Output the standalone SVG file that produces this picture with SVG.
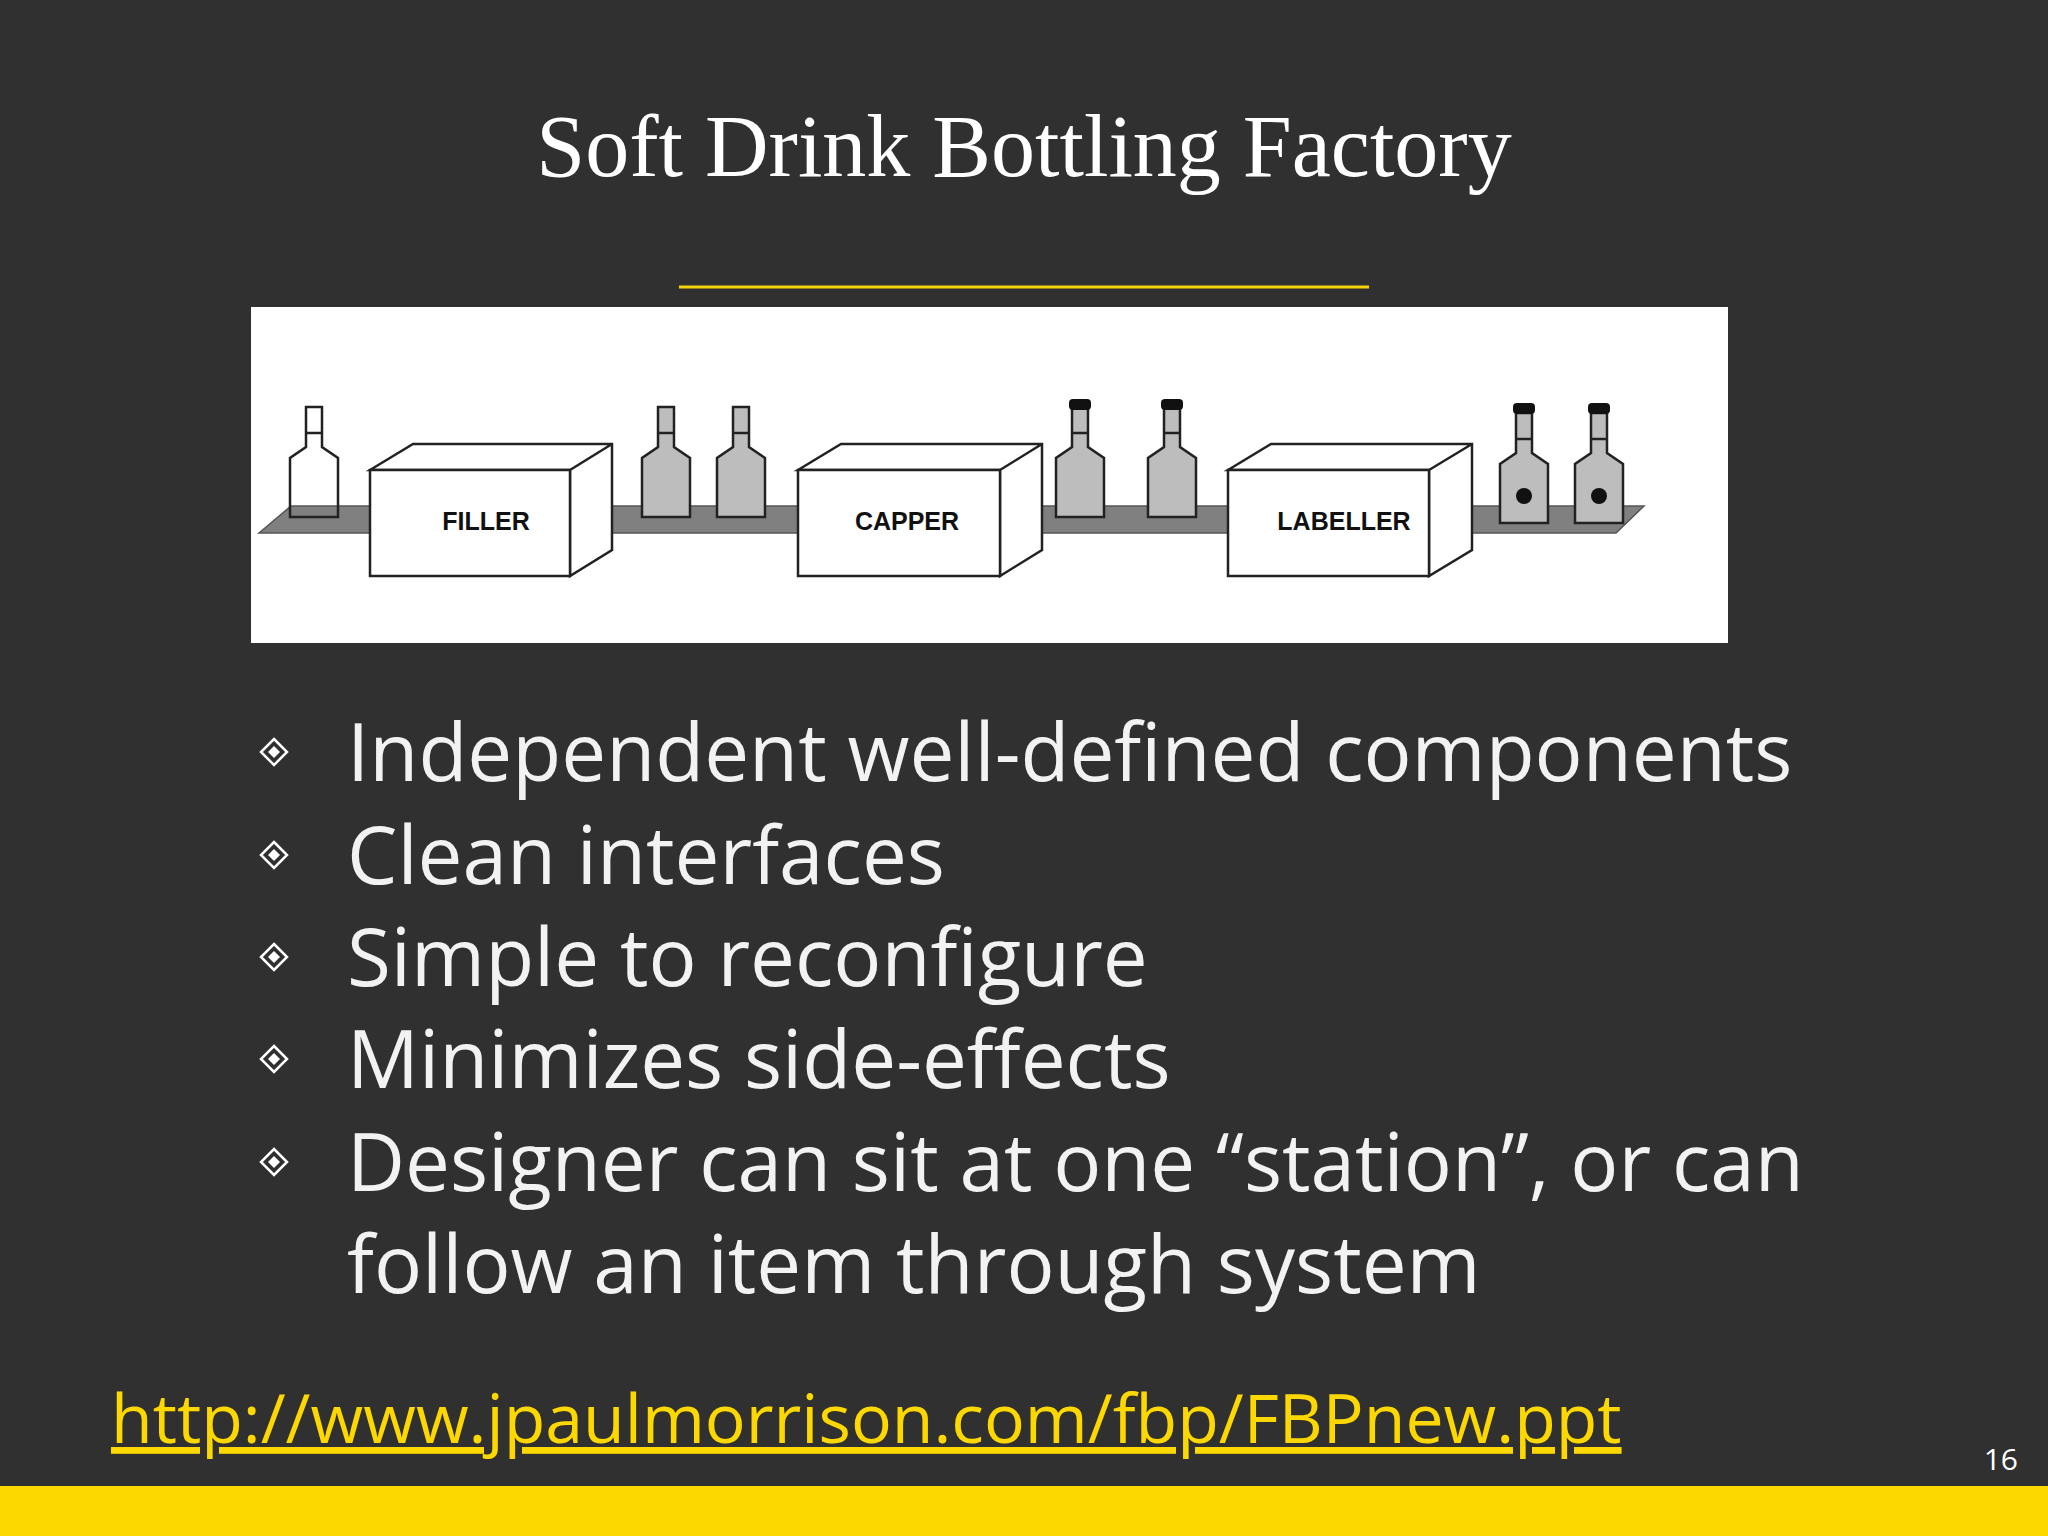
<svg xmlns="http://www.w3.org/2000/svg" width="2048" height="1536" viewBox="0 0 2048 1536">
<defs>
<style>
.belt{fill:#808080;stroke:#555;stroke-width:1.5}
.box{fill:#fff;stroke:#222;stroke-width:2.5}
.lbl{font-family:"Liberation Sans",Arial,sans-serif;font-weight:bold;font-size:25px;fill:#111;text-anchor:middle}
.bul{font-family:"Open Sans","Noto Sans",sans-serif;font-size:80px;fill:#f2f2f2}
.bot{stroke:#222;stroke-width:2.5}
</style>
<g id="diamond"><path d="M0,-13 L13,0 L0,13 L-13,0 Z" fill="none" stroke="#fff" stroke-width="2.5"/><path d="M0,-6 L6,0 L0,6 L-6,0 Z" fill="#fff"/></g>
<g id="bottle"><path d="M-8,-110 L8,-110 L8,-70 L24,-59 L24,0 L-24,0 L-24,-59 L-8,-70 Z"/><line x1="-8" y1="-84" x2="8" y2="-84"/></g>
</defs>
<rect width="2048" height="1536" fill="#303030"/>
<rect x="0" y="1486" width="2048" height="50" fill="#fdd800"/>
<text x="1024" y="176" font-family="'Liberation Serif',serif" font-size="88" fill="#fff" text-anchor="middle">Soft Drink Bottling Factory</text>
<line x1="679" y1="287" x2="1369" y2="287" stroke="#f5d10a" stroke-width="3"/>
<g id="picture">
<rect x="251" y="307" width="1477" height="336" fill="#fff"/>
<g id="belts">
<path class="belt" d="M259,533 L291,506 L370,506 L370,533 Z"/>
<path class="belt" d="M583,533 L612,506 L798,506 L798,533 Z"/>
<path class="belt" d="M1010,533 L1042,506 L1228,506 L1228,533 Z"/>
<path class="belt" d="M1446,533 L1471,506 L1644,506 L1616,533 Z"/>
</g>
<g id="bottle-empty"><use href="#bottle" x="314" y="517" class="bot" fill="none"/></g>
<g id="bottles-filled">
<use href="#bottle" x="666" y="517" class="bot" fill="#bdbdbd"/>
<use href="#bottle" x="741" y="517" class="bot" fill="#bdbdbd"/>
</g>
<g id="bottles-capped">
<use href="#bottle" x="1080" y="517" class="bot" fill="#bdbdbd"/>
<rect x="1069" y="399" width="22" height="11" rx="4" fill="#111"/>
<use href="#bottle" x="1172" y="517" class="bot" fill="#bdbdbd"/>
<rect x="1161" y="399" width="22" height="11" rx="4" fill="#111"/>
</g>
<g id="bottles-labelled">
<use href="#bottle" x="1524" y="523" class="bot" fill="#bdbdbd"/>
<rect x="1513" y="403" width="22" height="11" rx="4" fill="#111"/>
<circle cx="1524" cy="496" r="8" fill="#111"/>
<use href="#bottle" x="1599" y="523" class="bot" fill="#bdbdbd"/>
<rect x="1588" y="403" width="22" height="11" rx="4" fill="#111"/>
<circle cx="1599" cy="496" r="8" fill="#111"/>
</g>
<g id="filler">
<path class="box" d="M370,470 L413,444 L612,444 L612,550 L570,576 L570,470 Z M570,470 L612,444"/>
<rect class="box" x="370" y="470" width="200" height="106"/>
<text class="lbl" x="486" y="530">FILLER</text>
</g>
<g id="capper">
<path class="box" d="M798,470 L841,444 L1042,444 L1042,550 L1000,576 L1000,470 Z M1000,470 L1042,444"/>
<rect class="box" x="798" y="470" width="202" height="106"/>
<text class="lbl" x="907" y="530">CAPPER</text>
</g>
<g id="labeller">
<path class="box" d="M1228,470 L1271,444 L1472,444 L1472,550 L1429,576 L1429,470 Z M1429,470 L1472,444"/>
<rect class="box" x="1228" y="470" width="201" height="106"/>
<text class="lbl" x="1344" y="530">LABELLER</text>
</g>
</g>
<g id="bullets">
<use href="#diamond" x="274" y="752"/>
<use href="#diamond" x="274" y="855"/>
<use href="#diamond" x="274" y="957"/>
<use href="#diamond" x="274" y="1059"/>
<use href="#diamond" x="274" y="1162"/>
<text class="bul" x="347" y="781">Independent well-defined components</text>
<text class="bul" x="347" y="884">Clean interfaces</text>
<text class="bul" x="347" y="986">Simple to reconfigure</text>
<text class="bul" x="347" y="1088">Minimizes side-effects</text>
<text class="bul" x="347" y="1191">Designer can sit at one “station”, or can</text>
<text class="bul" x="347" y="1293">follow an item through system</text>
</g>
<text x="111" y="1443" font-family="'Open Sans','Noto Sans',sans-serif" font-size="68" fill="#fdd800" text-decoration="underline">http://www.jpaulmorrison.com/fbp/FBPnew.ppt</text>
<text x="2018" y="1470" font-family="'Open Sans','Noto Sans',sans-serif" font-size="30" fill="#fff" text-anchor="end">16</text>
</svg>
